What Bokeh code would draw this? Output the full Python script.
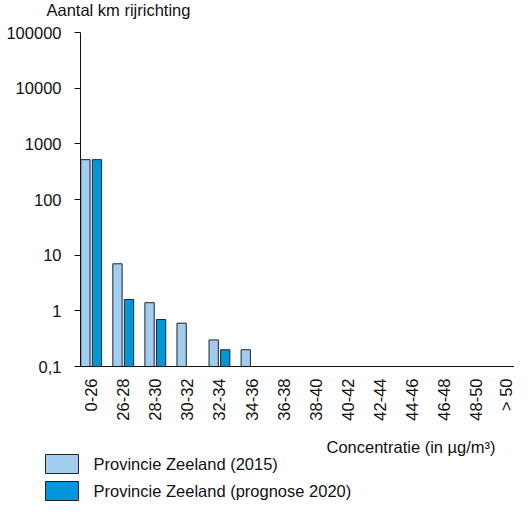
from bokeh.plotting import figure
from bokeh.layouts import column
from bokeh.models import ColumnDataSource, FixedTicker, Range1d
from bokeh.core.properties import value
from bokeh.embed import file_html
from bokeh.resources import INLINE

categories = ["0-26", "26-28", "28-30", "30-32", "32-34", "34-36", "36-38",
              "38-40", "40-42", "42-44", "44-46", "46-48", "48-50", "> 50"]
zeeland_2015 = [520, 7, 1.4, 0.6, 0.3, 0.2, 0, 0, 0, 0, 0, 0, 0, 0]
zeeland_2020 = [520, 1.6, 0.7, 0, 0.2, 0, 0, 0, 0, 0, 0, 0, 0, 0]
y_ticks = [0.1, 1, 10, 100, 1000, 10000, 100000]
y_tick_labels = ["0,1", "1", "10", "100", "1000", "10000", "100000"]
series_names = ["Provincie Zeeland (2015)", "Provincie Zeeland (prognose 2020)"]
colors = ["#a0cdf0", "#0096dc"]
y_title = "Aantal km rijrichting"
x_title = "Concentratie (in µg/m³)"

FONT = "Liberation Sans"
FS = "16.5px"
TXT = "#111111"
EDGE = "#222222"
W = 514
y_min, y_max = y_ticks[0], y_ticks[-1]


def blank(height):
    f = figure(width=W, height=height, x_range=Range1d(0, W),
               y_range=Range1d(height, 0), output_backend="svg",
               toolbar_location=None, x_axis_location=None,
               y_axis_location=None, frame_align=False,
               min_border_left=0, min_border_right=0,
               min_border_top=0, min_border_bottom=0)
    f.grid.visible = False
    f.outline_line_color = None
    return f


# ---- title strip ----
top = blank(20)
top.text(x=[46], y=[9], text=[y_title], text_font=value(FONT),
         text_font_size=FS, text_color=TXT, text_baseline="middle",
         text_align="left")

# ---- main chart ----
xs = list(range(len(categories)))
src = ColumnDataSource(dict(
    x1=[x - 0.18 for x in xs],
    x2=[x + 0.18 for x in xs],
    top1=[max(v, y_min) for v in zeeland_2015],
    top2=[max(v, y_min) for v in zeeland_2020],
))

p = figure(width=W, height=416, y_axis_type="log",
           x_range=Range1d(-0.333, 13.2), y_range=Range1d(y_min, y_max),
           output_backend="svg", toolbar_location=None, frame_align=False,
           min_border_left=80, min_border_right=0, min_border_top=12,
           min_border_bottom=70)
p.outline_line_color = None
p.grid.visible = False

p.vbar(x="x1", width=0.29, top="top1", bottom=y_min, source=src,
       fill_color=colors[0], line_color=EDGE, line_width=1)
p.vbar(x="x2", width=0.29, top="top2", bottom=y_min, source=src,
       fill_color=colors[1], line_color=EDGE, line_width=1)

p.xaxis.ticker = FixedTicker(ticks=xs)
p.xaxis.major_label_overrides = {i: c for i, c in zip(xs, categories)}
p.xaxis.major_label_orientation = 3.14159265 / 2
p.xaxis.major_tick_out = 0
p.xaxis.major_tick_in = 0
p.xaxis.minor_tick_line_color = None
p.xaxis.major_label_standoff = 12
p.xaxis.axis_line_color = TXT

p.yaxis.ticker = FixedTicker(ticks=y_ticks)
p.yaxis.major_label_overrides = {float(t): l for t, l in zip(y_ticks, y_tick_labels)}
p.yaxis.major_tick_out = 6
p.yaxis.major_tick_in = 0
p.yaxis.minor_tick_line_color = None
p.yaxis.major_label_standoff = 13
p.yaxis.axis_line_color = TXT
p.yaxis.major_tick_line_color = TXT

for ax in (p.xaxis, p.yaxis):
    ax.major_label_text_font = FONT
    ax.major_label_text_font_size = FS
    ax.major_label_text_color = TXT

# ---- axis title + legend ----
bot = blank(65)
bot.text(x=[326], y=[10], text=[x_title], text_font=value(FONT),
         text_font_size=FS, text_color=TXT, text_baseline="middle",
         text_align="left")
sq_top = [18, 45]
bot.quad(left=[45, 45], right=[78, 78], top=sq_top, bottom=[t + 19 for t in sq_top],
         fill_color=colors, line_color=EDGE, line_width=1)
bot.text(x=[93, 93], y=[t + 9.5 for t in sq_top], text=series_names,
         text_font=value(FONT), text_font_size=FS, text_color=TXT,
         text_baseline="middle", text_align="left")

layout = column(top, p, bot, spacing=0)
open("out.html", "w").write(file_html(layout, INLINE))
